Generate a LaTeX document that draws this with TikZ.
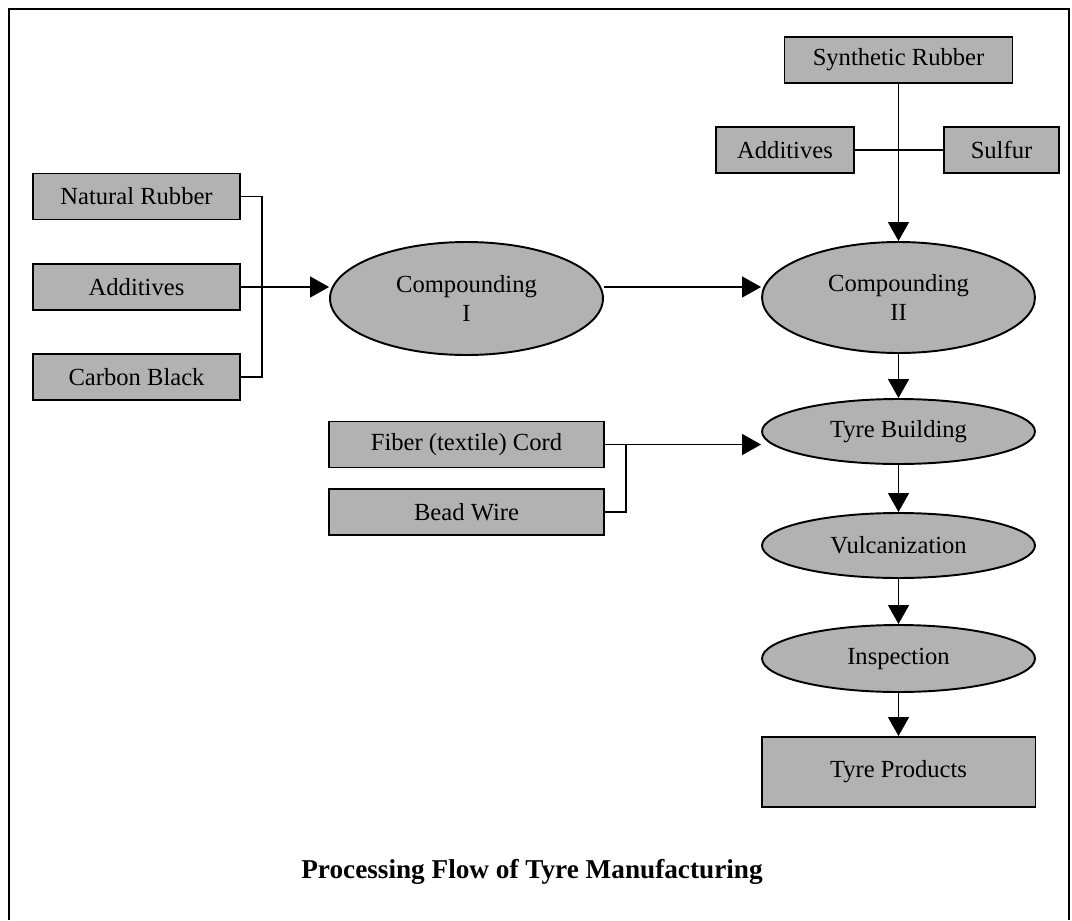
\documentclass[tikz,border=0pt]{standalone}
\usepackage{fontspec}
\setmainfont{Liberation Serif}
\usetikzlibrary{arrows.meta,shapes.geometric}

\tikzset{
  inbox/.style={rectangle,draw,line width=1.1pt,fill=black!30,inner sep=0pt,minimum height=0.92cm},
  stage/.style={ellipse,draw,line width=1.1pt,fill=black!30,inner sep=0pt,minimum width=5.46cm,align=center},
}

\begin{document}
\begin{tikzpicture}[x=0.02cm,y=-0.02cm,>={Triangle[length=3.8mm,width=4.2mm]},
                    line width=0.8pt,font=\fontsize{14}{16}\selectfont]
    \useasboundingbox (0,0) rectangle (1072,920);
    \draw[line width=1.3pt] (9,920) -- (9,9) -- (1069,9) -- (1069,920);
    % raw materials
    \node[inbox,minimum width=4.14cm] (natrub) at (136.5,196.5) {Natural Rubber};
    \node[inbox,minimum width=4.14cm] (addl)   at (136.5,287)   {Additives};
    \node[inbox,minimum width=4.14cm] (carbon) at (136.5,377)   {Carbon Black};
    \node[inbox,minimum width=5.5cm]  (fiber)  at (466.5,444.5) {Fiber (textile) Cord};
    \node[inbox,minimum width=5.5cm]  (bead)   at (466.5,512)   {Bead Wire};
    \node[inbox,minimum width=4.56cm] (synrub) at (898.5,60)    {Synthetic Rubber};
    \node[inbox,minimum width=2.76cm] (addt)   at (785,150)     {Additives};
    \node[inbox,minimum width=2.3cm]  (sulfur) at (1001.5,150)  {Sulfur};
    % process stages
    \node[stage,minimum height=2.26cm] (comp1) at (466.5,298.5) {Compounding\\I};
    \node[stage,minimum height=2.22cm] (comp2) at (898.5,297.5) {Compounding\\II};
    \node[stage,minimum height=1.3cm]  (build) at (898.5,431.5) {Tyre Building};
    \node[stage,minimum height=1.3cm]  (vulc)  at (898.5,545.5) {Vulcanization};
    \node[stage,minimum height=1.34cm] (insp)  at (898.5,658.5) {Inspection};
    \node[inbox,minimum width=5.48cm,minimum height=1.4cm] (prod) at (898.5,772) {Tyre Products};
    \node[font=\bfseries\fontsize{15.5}{18}\selectfont] (title) at (532,872)
        {Processing Flow of Tyre Manufacturing};
    % joints
    \coordinate (jl) at (262,287);
    \coordinate (jr) at (626,444.5);
    \draw (natrub.east) -| (jl) |- (carbon.east);
    \draw[->] (addl.east) -- (addl.east -| comp1.west);
    \draw[->] (comp1.east |- addl.east) -- (comp2.west |- addl.east);
    \draw (addt.east) -- (sulfur.west);
    \draw[->] (synrub) -- (comp2);
    \draw (bead.east) -| (jr);
    \draw[->] (fiber.east) -- (fiber.east -| build.west);
    \draw[->] (comp2) -- (build);
    \draw[->] (build) -- (vulc);
    \draw[->] (vulc) -- (insp);
    \draw[->] (insp) -- (prod);
\end{tikzpicture}
\end{document}
